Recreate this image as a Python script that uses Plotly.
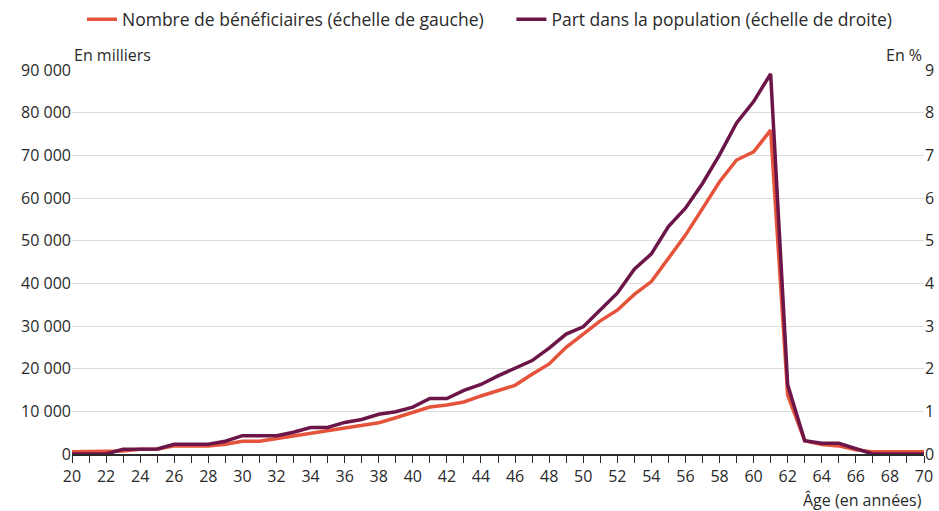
import plotly.graph_objects as go

ages = list(range(20, 71))
beneficiaires = [500, 500, 500, 700, 1100, 1100, 1900, 1900, 1900, 2300,
                 3000, 3000, 3600, 4200, 4800, 5400, 6000, 6600, 7300, 8500,
                 9700, 11000, 11500, 12200, 13600, 14850, 16100, 18700, 21100, 25000,
                 28200, 31200, 33700, 37400, 40400, 45900, 51300, 57500, 63800, 68900,
                 70800, 75900, 13800, 3100, 2200, 1900, 1000, 500, 500, 500,
                 500]
part = [0.0, 0.0, 0.0, 0.11, 0.12, 0.12, 0.23, 0.23, 0.23, 0.30,
        0.43, 0.43, 0.43, 0.51, 0.62, 0.62, 0.74, 0.81, 0.93, 0.99,
        1.10, 1.30, 1.30, 1.49, 1.63, 1.83, 2.01, 2.19, 2.48, 2.81,
        2.98, 3.37, 3.77, 4.33, 4.69, 5.33, 5.76, 6.34, 7.01, 7.76,
        8.26, 8.91, 1.62, 0.31, 0.25, 0.25, 0.13, 0.0, 0.0, 0.0,
        0.0]

left_vals = list(range(0, 90001, 10000))
left_text = ["0" if v == 0 else f"{v // 1000} 000" for v in left_vals]
right_vals = list(range(0, 10))
x_vals = list(range(20, 71, 2))

ORANGE = "#E4533A"
PURPLE = "#6C1549"
FONT = "Open Sans"
TXT = "#2a2a2a"
PAD = "\u00a0" * 5

fig = go.Figure()
fig.add_trace(go.Scatter(x=ages, y=beneficiaires, mode="lines",
                         name="Nombre de bénéficiaires (échelle de gauche)" + PAD,
                         line=dict(color=ORANGE, width=3.5), yaxis="y"))
fig.add_trace(go.Scatter(x=ages, y=part, mode="lines",
                         name="Part dans la population (échelle de droite)",
                         line=dict(color=PURPLE, width=3.5), yaxis="y2"))

fig.update_layout(
    width=939, height=511,
    margin=dict(l=72, r=15, t=70, b=57),
    paper_bgcolor="white", plot_bgcolor="white",
    font=dict(family=FONT, size=16, color=TXT),
    showlegend=True,
    legend=dict(orientation="h", x=0.49, xanchor="center",
                yref="container", y=0.962, yanchor="middle",
                font=dict(size=17.5), itemwidth=30),
    xaxis=dict(range=[20, 70], tickvals=x_vals, ticks="outside", ticklen=7,
               tickcolor=TXT, showline=True, linecolor=TXT, linewidth=1.5,
               showgrid=False, zeroline=False, automargin=False,
               tickfont=dict(size=16),
               minor=dict(ticks="outside", dtick=1, ticklen=7, tickcolor=TXT)),
    yaxis=dict(range=[0, 90000], tickvals=left_vals, ticktext=left_text,
               showgrid=True, gridcolor="#dcdcdc", gridwidth=1, zeroline=False,
               ticks="", automargin=False, tickfont=dict(size=16)),
    yaxis2=dict(range=[0, 9], tickvals=right_vals, overlaying="y", side="right",
                showgrid=False, zeroline=False, ticks="", automargin=False,
                tickfont=dict(size=16)),
    annotations=[
        dict(text="En milliers", xref="paper", yref="paper", x=0, y=1,
             xanchor="left", yanchor="bottom", yshift=2, showarrow=False,
             font=dict(size=16)),
        dict(text="En %", xref="paper", yref="paper", x=1, y=1,
             xanchor="right", yanchor="bottom", yshift=2, showarrow=False,
             font=dict(size=16)),
        dict(text="Âge (en années)", xref="paper", yref="paper", x=1, y=-0.12,
             xanchor="right", yanchor="middle", showarrow=False,
             font=dict(size=16)),
    ],
)

fig.write_html("out.html", config={"displayModeBar": False},
               post_script="document.body.style.margin='0';document.body.style.overflow='hidden';")
